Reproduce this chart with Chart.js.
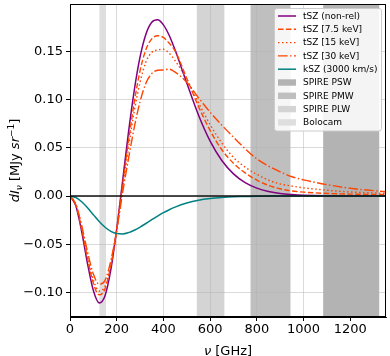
<!DOCTYPE html>
<html>
<head>
<meta charset="utf-8">
<script src="https://cdn.jsdelivr.net/npm/chart.js@4"></script>
<style>
  html, body { margin: 0; padding: 0; background: #fff; }
</style>
</head>
<body>
<canvas id="chart" width="390" height="356"></canvas>
<script>
/* ——— data ——— */
const NU = [0, 25, 50, 75, 100, 125, 150, 175, 200, 225, 250, 275, 300, 325, 350, 375, 400, 425, 450,
            500, 550, 600, 650, 700, 750, 800, 850, 900, 950, 1000, 1100, 1200, 1350];

const TSZ_NONREL = [0, -0.0101, -0.0368, -0.0701, -0.0981, -0.1109, -0.1034, -0.0762, -0.0343, 0.0152,
    0.0653, 0.1094, 0.1443, 0.1679, 0.1803, 0.1829, 0.1776, 0.1665, 0.1514, 0.1172, 0.0840, 0.0569,
    0.0369, 0.0230, 0.0139, 0.0082, 0.0047, 0.0026, 0.0015, 0.0008, 0.0002, 0.0001, 0];

const TSZ_7P5 = [0, -0.0094, -0.0340, -0.0648, -0.0905, -0.1025, -0.0963, -0.0718, -0.0345, 0.0110,
    0.0560, 0.0970, 0.1300, 0.1520, 0.1630, 0.1662, 0.1645, 0.1585, 0.1505, 0.1220, 0.0930, 0.0680,
    0.0480, 0.0340, 0.0240, 0.0165, 0.0110, 0.0075, 0.0052, 0.0040, 0.0027, 0.0020, 0.0015];

const TSZ_15 = [0, -0.0090, -0.0328, -0.0624, -0.0870, -0.0985, -0.0935, -0.0705, -0.0350, 0.0080,
    0.0490, 0.0880, 0.1180, 0.1390, 0.1490, 0.1515, 0.1522, 0.1480, 0.1405, 0.1210, 0.0970, 0.0740,
    0.0550, 0.0400, 0.0300, 0.0225, 0.0165, 0.0125, 0.0103, 0.0085, 0.0060, 0.0042, 0.0028];

const TSZ_30 = [0, -0.0085, -0.0305, -0.0580, -0.0810, -0.0915, -0.0875, -0.0668, -0.0360, 0.0030,
    0.0380, 0.0710, 0.0980, 0.1170, 0.1270, 0.1305, 0.1308, 0.1316, 0.1285, 0.1180, 0.1020, 0.0870,
    0.0735, 0.0610, 0.0490, 0.0385, 0.0310, 0.0250, 0.0200, 0.0168, 0.0118, 0.0080, 0.0045];

const KSZ = [0, -0.0015, -0.0059, -0.0122, -0.0194, -0.0265, -0.0324, -0.0366, -0.0389, -0.0393,
    -0.0380, -0.0355, -0.0322, -0.0285, -0.0246, -0.0208, -0.0173, -0.0142, -0.0115, -0.0073, -0.0044,
    -0.0026, -0.0015, -0.0008, -0.0005, -0.0002, -0.0001, -0.0001, 0, 0, 0, 0, 0];

const SERIES_LABELS = ['tSZ (non-rel)', 'tSZ [7.5 keV]', 'tSZ [15 keV]', 'tSZ [30 keV]', 'kSZ (3000 km/s)'];

const BAND_NAMES = ['SPIRE PSW', 'SPIRE PMW', 'SPIRE PLW', 'Bolocam'];
const BAND_LO    = [1084, 773, 543, 126];
const BAND_HI    = [1324, 944, 661, 154];

const X_TICKS = [0, 200, 400, 600, 800, 1000, 1200];
const Y_TICKS = [-0.10, -0.05, 0, 0.05, 0.10, 0.15];
const X_MIN = 0, X_MAX = 1353;
const Y_MIN = -0.1255, Y_MAX = 0.1992;

/* ——— styles ——— */
const FONT = 'DejaVu Sans';
const GRID = 'rgba(176,176,176,0.6)';
const BAND_COLOURS = ['#b3b3b3', '#bfbfbf', '#d4d4d4', '#dedede'];
const LINE_STYLES = [
    {color: '#800080', dash: [], width: 1.5},
    {color: '#ff4500', dash: [5.5, 2.4], width: 1.4},
    {color: '#ff4500', dash: [1.5, 2.5], width: 1.4},
    {color: '#ff4500', dash: [9.6, 2.4, 1.5, 2.4], width: 1.4},
    {color: '#008080', dash: [], width: 1.5}
];

const pts = ys => NU.map((x, i) => ({x, y: ys[i]}));
const seriesData = [TSZ_NONREL, TSZ_7P5, TSZ_15, TSZ_30, KSZ];

const datasets = seriesData.map((ys, i) => ({
    label: SERIES_LABELS[i],
    data: pts(ys),
    borderColor: LINE_STYLES[i].color,
    borderDash: LINE_STYLES[i].dash,
    borderWidth: LINE_STYLES[i].width,
    order: 6 - i
}));
datasets.push({
    label: 'zero',
    data: [{x: X_MIN, y: 0}, {x: X_MAX, y: 0}],
    borderColor: '#111',
    borderWidth: 1.5,
    order: 0
});

/* ——— plugins ——— */
const bandsPlugin = {
    id: 'bands',
    beforeDraw(chart) {
        const {ctx, chartArea: a, scales: {x}} = chart;
        ctx.save();
        ctx.beginPath(); ctx.rect(a.left, a.top, a.right - a.left, a.bottom - a.top); ctx.clip();
        BAND_NAMES.forEach((_, i) => {
            const x0 = x.getPixelForValue(BAND_LO[i]), x1 = x.getPixelForValue(BAND_HI[i]);
            ctx.fillStyle = BAND_COLOURS[i];
            ctx.fillRect(x0, a.top, x1 - x0, a.bottom - a.top);
        });
        ctx.restore();
    }
};

function drawRich(ctx, parts, cx, cy) {
    let total = 0;
    parts.forEach(p => { ctx.font = p.f; p.w = ctx.measureText(p.t).width; total += p.w; });
    let xx = cx - total / 2;
    parts.forEach(p => { ctx.font = p.f; ctx.fillText(p.t, xx, cy + (p.dy || 0)); xx += p.w; });
}

const decorPlugin = {
    id: 'decor',
    afterDraw(chart) {
        const {ctx, chartArea: a} = chart;
        ctx.save();
        /* frame */
        ctx.strokeStyle = '#000'; ctx.lineWidth = 1;
        ctx.strokeRect(a.left + 0.5, a.top + 0.5, a.right - a.left - 1, a.bottom - a.top - 1);

        /* axis titles */
        ctx.fillStyle = '#000'; ctx.textBaseline = 'alphabetic';
        drawRich(ctx, [
            {t: 'ν', f: `italic 13px "${FONT}"`},
            {t: ' [GHz]', f: `13px "${FONT}"`}
        ], (a.left + a.right) / 2, 355);

        ctx.save();
        ctx.translate(19, (a.top + a.bottom) / 2);
        ctx.rotate(-Math.PI / 2);
        drawRich(ctx, [
            {t: 'dI', f: `italic 13px "${FONT}"`},
            {t: 'ν', f: `italic 9px "${FONT}"`, dy: 3},
            {t: ' [MJy ', f: `13px "${FONT}"`},
            {t: 'sr', f: `italic 13px "${FONT}"`},
            {t: '−1', f: `9px "${FONT}"`, dy: -5},
            {t: ']', f: `13px "${FONT}"`}
        ], 0, 0);
        ctx.restore();

        /* legend */
        const bx = 274.5, by = 8.5, bw = 107, bh = 122.5;
        ctx.fillStyle = 'rgba(255,255,255,0.85)';
        ctx.strokeStyle = '#cccccc'; ctx.lineWidth = 1;
        ctx.beginPath(); ctx.roundRect(bx, by, bw, bh, 2.5); ctx.fill(); ctx.stroke();

        const labels = SERIES_LABELS.concat(BAND_NAMES);
        ctx.font = `9px "${FONT}"`; ctx.textBaseline = 'middle';
        labels.forEach((lab, i) => {
            const y = 16 + i * 13.3;
            if (i < SERIES_LABELS.length) {
                ctx.strokeStyle = LINE_STYLES[i].color; ctx.lineWidth = LINE_STYLES[i].width;
                ctx.setLineDash(LINE_STYLES[i].dash);
                ctx.beginPath(); ctx.moveTo(278, y); ctx.lineTo(296, y); ctx.stroke();
                ctx.setLineDash([]);
            } else {
                ctx.fillStyle = BAND_COLOURS[i - SERIES_LABELS.length];
                ctx.fillRect(278, y - 3.2, 18, 6.4);
            }
            ctx.fillStyle = '#000';
            ctx.fillText(lab, 303, y + 0.5);
        });
        ctx.restore();
    }
};

/* ——— chart ——— */
new Chart(document.getElementById('chart').getContext('2d'), {
    type: 'line',
    data: {datasets},
    options: {
        responsive: false,
        animation: false,
        devicePixelRatio: 1,
        layout: {padding: {top: 4, right: 4, left: 0, bottom: 0}},
        plugins: {legend: {display: false}, tooltip: {enabled: false}},
        elements: {point: {radius: 0}, line: {cubicInterpolationMode: 'monotone'}},
        scales: {
            x: {
                type: 'linear', min: X_MIN, max: X_MAX,
                afterBuildTicks: s => { s.ticks = X_TICKS.map(v => ({value: v})); },
                afterFit: s => { s.height = 39; s.paddingLeft = 0; s.paddingRight = 0; },
                ticks: {font: {family: FONT, size: 13}, color: '#000', padding: 1, maxRotation: 0,
                        callback: v => String(v)},
                grid: {color: GRID, lineWidth: 0.8, tickColor: '#000', tickLength: 4, tickWidth: 1},
                border: {color: '#000', width: 1}
            },
            y: {
                type: 'linear', min: Y_MIN, max: Y_MAX,
                afterBuildTicks: s => { s.ticks = Y_TICKS.map(v => ({value: v})); },
                afterFit: s => { s.width = 70; s.paddingTop = 0; s.paddingBottom = 0; },
                ticks: {font: {family: FONT, size: 13}, color: '#000', padding: 3,
                        callback: v => (v < 0 ? '\u2212' : '') + Math.abs(v).toFixed(2)},
                grid: {color: GRID, lineWidth: 0.8, tickColor: '#000', tickLength: 4, tickWidth: 1},
                border: {color: '#000', width: 1}
            }
        }
    },
    plugins: [bandsPlugin, decorPlugin]
});
</script>
</body>
</html>
